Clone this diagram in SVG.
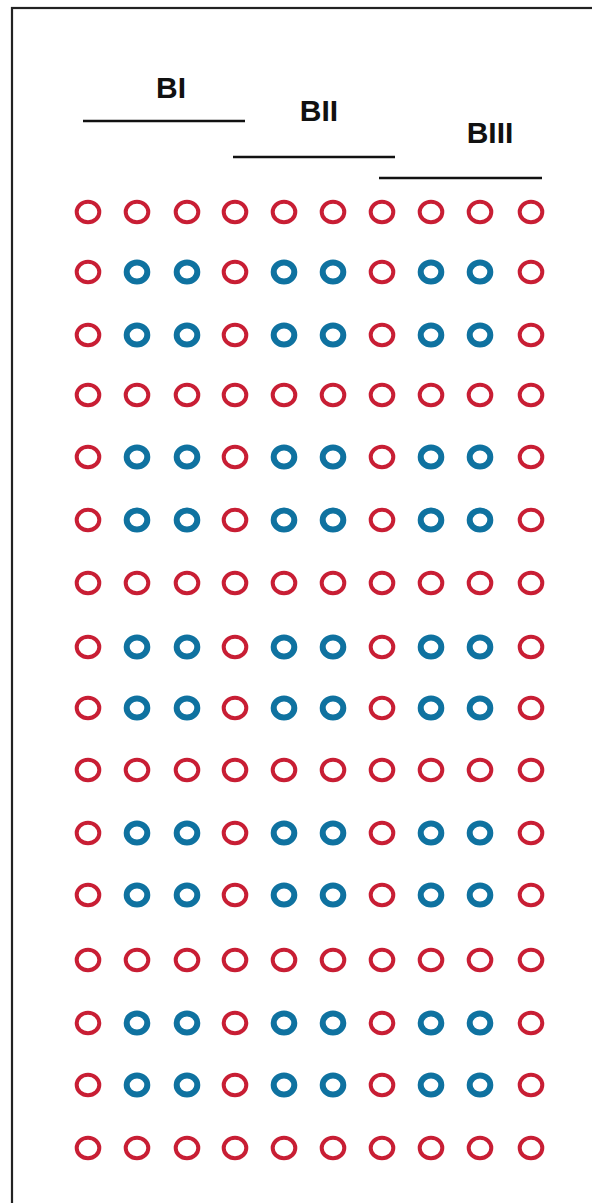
<svg xmlns="http://www.w3.org/2000/svg" width="592" height="1203" viewBox="0 0 592 1203">
<style>
.lbl{font-family:"Liberation Sans",Arial,sans-serif;font-weight:bold;font-size:30px;fill:#111}
.bar{stroke:#111;stroke-width:2.5}
.r{fill:none;stroke:#c81e34;stroke-width:4}
.b{fill:none;stroke:#0f72a0;stroke-width:6}
</style>
<rect width="592" height="1203" fill="#fff"/>
<rect id="frame" x="12" y="8" width="600" height="1230" fill="none" stroke="#222" stroke-width="2.2"/>
<g id="labels">
<g id="BI"><text class="lbl" x="171" y="98" text-anchor="middle">BI</text><line class="bar" x1="83" y1="121" x2="245" y2="121"/></g>
<g id="BII"><text class="lbl" x="319" y="121" text-anchor="middle">BII</text><line class="bar" x1="233" y1="157" x2="395" y2="157"/></g>
<g id="BIII"><text class="lbl" x="490" y="143" text-anchor="middle">BIII</text><line class="bar" x1="379" y1="178" x2="542" y2="178"/></g>
</g>
<defs>
<ellipse id="rc" class="r" cx="0" cy="0" rx="11.3" ry="10.3"/>
<ellipse id="bc" class="b" cx="0" cy="0" rx="10.3" ry="9.5"/>
<g id="redrow">
<use href="#rc" x="88"/><use href="#rc" x="137"/><use href="#rc" x="187"/><use href="#rc" x="235"/><use href="#rc" x="284"/><use href="#rc" x="333"/><use href="#rc" x="382"/><use href="#rc" x="431"/><use href="#rc" x="480"/><use href="#rc" x="531"/>
</g>
<g id="mixrow">
<use href="#rc" x="88"/><use href="#bc" x="137"/><use href="#bc" x="187"/><use href="#rc" x="235"/><use href="#bc" x="284"/><use href="#bc" x="333"/><use href="#rc" x="382"/><use href="#bc" x="431"/><use href="#bc" x="480"/><use href="#rc" x="531"/>
</g>
</defs>
<g id="grid">
<use id="row1" href="#redrow" y="212"/>
<use id="row2" href="#mixrow" y="272"/>
<use id="row3" href="#mixrow" y="335"/>
<use id="row4" href="#redrow" y="395"/>
<use id="row5" href="#mixrow" y="457"/>
<use id="row6" href="#mixrow" y="520"/>
<use id="row7" href="#redrow" y="583"/>
<use id="row8" href="#mixrow" y="647"/>
<use id="row9" href="#mixrow" y="708"/>
<use id="row10" href="#redrow" y="770"/>
<use id="row11" href="#mixrow" y="833"/>
<use id="row12" href="#mixrow" y="895"/>
<use id="row13" href="#redrow" y="960"/>
<use id="row14" href="#mixrow" y="1023"/>
<use id="row15" href="#mixrow" y="1085"/>
<use id="row16" href="#redrow" y="1148"/>
</g>
</svg>
